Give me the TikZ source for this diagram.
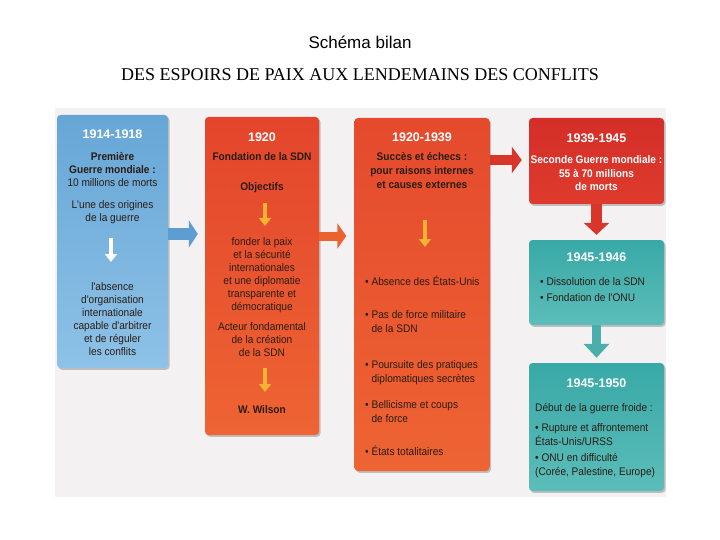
\documentclass[tikz,border=0pt]{standalone}
\usepackage{fontspec}
\setmainfont{Liberation Sans}
\newfontfamily\seriffont{Liberation Serif}
\newfontfamily\cf[FakeStretch=0.92]{Liberation Sans}
\usetikzlibrary{arrows.meta,shadows}
\definecolor{bg}{HTML}{F3F1F1}
\definecolor{blueT}{HTML}{66A6D6}
\definecolor{blueB}{HTML}{8EC2E7}
\definecolor{blueA}{HTML}{5E9DD1}
\definecolor{orT}{HTML}{E3452C}
\definecolor{orB}{HTML}{EE6433}
\definecolor{orA}{HTML}{EA6230}
\definecolor{redT}{HTML}{D42E28}
\definecolor{redB}{HTML}{DE3B2D}
\definecolor{redA}{HTML}{D8362A}
\definecolor{tealT}{HTML}{38A9A7}
\definecolor{tealB}{HTML}{5CBDB9}
\definecolor{tealA}{HTML}{4AAFAC}
\definecolor{ink}{HTML}{2A1C14}
\definecolor{yel}{HTML}{F2B233}
\begin{document}
\begin{tikzpicture}[x=1pt,y=-1pt,
  box/.style={rounded corners=3.5pt, inner sep=0pt,
    drop shadow={shadow xshift=1.5pt, shadow yshift=-1.8pt, opacity=0.45}},
  hd/.style={font=\bfseries\fontsize{12.5}{14}\selectfont, text=white, inner sep=0pt, anchor=center},
  txt/.style={font=\cf\fontsize{11}{13}\selectfont, text=ink, align=center, inner sep=0pt, anchor=north},
  ltxt/.style={font=\cf\fontsize{11}{13.5}\selectfont, text=ink, align=left, inner sep=0pt, anchor=north west},
  wtxt/.style={font=\cf\bfseries\fontsize{11}{13.5}\selectfont, text=white, align=center, inner sep=0pt, anchor=north},
  small/.style={line width=4pt, -{Triangle[width=12pt,length=8pt]}}
]
\useasboundingbox (0,0) rectangle (720,540);
% titles
\node[font=\fontsize{17}{20}\selectfont] (title) at (360,42) {Schéma bilan};
\node[font=\seriffont\fontsize{18}{20}\selectfont] (subtitle) at (360,75) {DES ESPOIRS DE PAIX AUX LENDEMAINS DES CONFLITS};
% photo background
\fill[bg] (55,108) rectangle (666,497);
% boxes
\node[box, top color=blueT, bottom color=blueB, minimum width=111pt, minimum height=253pt] (b1) at (112.5,241.5) {};
\node[box, top color=orT, bottom color=orB, minimum width=114pt, minimum height=318pt] (b2) at (262,276) {};
\node[box, top color=orT!85!orB, bottom color=orB, minimum width=135pt, minimum height=353pt] (b3) at (422,294.5) {};
\node[box, top color=redT, bottom color=redB, minimum width=135pt, minimum height=86pt] (b4) at (596.5,161) {};
\node[box, top color=tealT, bottom color=tealB, minimum width=135pt, minimum height=85pt] (b5) at (596.5,282.5) {};
\node[box, top color=tealT, bottom color=tealB, minimum width=135pt, minimum height=128pt] (b6) at (596.5,427) {};
% connectors between boxes
\draw[blueA, line width=12pt, -{Triangle[width=27pt,length=9pt]}, shorten >=7pt] (b1.east |- 0,234) -- (b2.west |- 0,234);
\draw[orA, line width=9pt, -{Triangle[width=25pt,length=9pt]}, shorten >=8pt] (b2.east |- 0,236) -- (b3.west |- 0,236);
\draw[redA, line width=10pt, -{Triangle[width=26pt,length=10pt]}, shorten >=7pt] (b3.east |- 0,160) -- (b4.west |- 0,160);
\draw[redA, line width=11pt, -{Triangle[width=25pt,length=12pt]}, shorten >=5pt] (b4.south) -- (b5.north);
\draw[tealA, line width=9pt, -{Triangle[width=25pt,length=14pt]}, shorten >=5pt] (b5.south) -- (b6.north);
% box 1
\node[hd] (h1) at (112.5,134) {1914-1918};
\node[txt] (t1a) at (112.5,152.5) {\textbf{Première}\\\textbf{Guerre mondiale :}\\10 millions de morts};
\node[txt] (t1b) at (112.5,200) {L'une des origines\\de la guerre};
\coordinate (a1s) at (111,238);
\coordinate (a1e) at (111,262);
\draw[small, white] (a1s) -- (a1e);
\node[txt] (t1c) at (112.5,282.5) {l'absence\\d'organisation\\internationale\\capable d'arbitrer\\et de réguler\\les conflits};
% box 2
\node[hd] (h2) at (262,137) {1920};
\node[txt, font=\cf\bfseries\fontsize{11}{13}\selectfont] (t2a) at (262,152.5) {Fondation de la SDN};
\node[txt, font=\cf\bfseries\fontsize{11}{13}\selectfont] (t2b) at (262,182.5) {Objectifs};
\coordinate (a2s) at (265,203);
\coordinate (a2e) at (265,226);
\draw[small, yel] (a2s) -- (a2e);
\node[txt] (t2c) at (262,237.5) {fonder la paix\\et la sécurité\\internationales\\et une diplomatie\\transparente et\\démocratique};
\node[txt] (t2d) at (262,322.5) {Acteur fondamental\\de la création\\de la SDN};
\coordinate (a3s) at (265,368);
\coordinate (a3e) at (265,392);
\draw[small, yel] (a3s) -- (a3e);
\node[txt, font=\cf\bfseries\fontsize{11}{13}\selectfont] (t2e) at (262,405.5) {W. Wilson};
% box 3
\node[hd] (h3) at (422,137) {1920-1939};
\node[txt, font=\cf\bfseries\fontsize{11}{13.8}\selectfont] (t3a) at (422,152.5) {Succès et échecs :\\pour raisons internes\\et causes externes};
\coordinate (a4s) at (425,220);
\coordinate (a4e) at (425,247);
\draw[small, yel] (a4s) -- (a4e);
\node[ltxt] (t3b) at (365,275.5) {• Absence des États-Unis};
\node[ltxt] (t3c) at (365,310.5) {• Pas de force militaire\\\phantom{• }de la SDN};
\node[ltxt] (t3d) at (365,360.5) {• Poursuite des pratiques\\\phantom{• }diplomatiques secrètes};
\node[ltxt] (t3e) at (365,400.5) {• Bellicisme et coups\\\phantom{• }de force};
\node[ltxt] (t3f) at (365,445.5) {• États totalitaires};
% box 4
\node[hd] (h4) at (596.5,138) {1939-1945};
\node[wtxt] (t4a) at (596.5,155.5) {Seconde Guerre mondiale :\\55 à 70 millions\\de morts};
% box 5
\node[hd] (h5) at (596.5,257) {1945-1946};
\node[ltxt] (t5a) at (540,277.5) {• Dissolution de la SDN};
\node[ltxt] (t5b) at (540,293.5) {• Fondation de l'ONU};
% box 6
\node[hd] (h6) at (596.5,383) {1945-1950};
\node[ltxt] (t6a) at (535,403.5) {Début de la guerre froide :};
\node[ltxt] (t6b) at (535,423.5) {• Rupture et affrontement\\États-Unis/URSS};
\node[ltxt] (t6c) at (535,453.5) {• ONU en difficulté\\(Corée, Palestine, Europe)};
\end{tikzpicture}
\end{document}
